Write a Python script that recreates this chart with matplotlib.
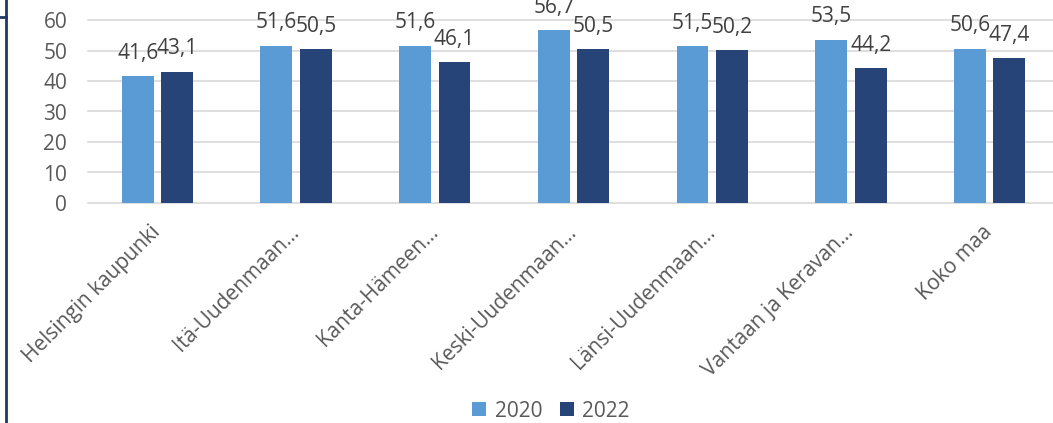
import numpy as np
import matplotlib
matplotlib.use("Agg")
import matplotlib.pyplot as plt
from matplotlib.patches import Patch
from matplotlib.lines import Line2D

# data
categories = ["Helsingin kaupunki", "Itä-Uudenmaan…", "Kanta-Hämeen…",
              "Keski-Uudenmaan…", "Länsi-Uudenmaan…", "Vantaan ja Keravan…",
              "Koko maa"]
vals_2020 = [41.6, 51.6, 51.6, 56.7, 51.5, 53.5, 50.6]
vals_2022 = [43.1, 50.5, 46.1, 50.5, 50.2, 44.2, 47.4]
series_names = ["2020", "2022"]
yticks = [0, 10, 20, 30, 40, 50, 60]

c_light = "#5B9BD5"
c_dark = "#264478"
txt = "#595959"
grid_c = "#D9D9D9"

plt.rcParams['font.family'] = ['Open Sans', 'DejaVu Sans']

W, H = 1053, 423
fig = plt.figure(figsize=(W / 100, H / 100), dpi=100)

# plot area in pixels: x 88..1059 (runs past the right edge), y 20..203
ax = fig.add_axes([88 / W, 1 - 203 / H, 971 / W, 183 / H])

x = np.arange(len(categories))
bw = 0.23
off = 0.142
b1 = ax.bar(x - off, vals_2020, bw, color=c_light, zorder=3)
b2 = ax.bar(x + off, vals_2022, bw, color=c_dark, zorder=3)

for bars, vals in [(b1, vals_2020), (b2, vals_2022)]:
    for r, v in zip(bars, vals):
        ax.annotate(f"{v:.1f}".replace(".", ","),
                    (r.get_x() + r.get_width() / 2, r.get_height()),
                    xytext=(0, 12.5), textcoords="offset points",
                    ha="center", va="baseline", fontsize=15, color="#404040",
                    annotation_clip=False, zorder=4)

ax.set_xlim(-0.5, len(categories) - 0.5)
ax.set_ylim(0, 60)
ax.set_yticks(yticks)
ax.set_yticklabels([str(t) for t in yticks])
for t in yticks:
    ax.axhline(t, color=grid_c, lw=1.2, zorder=1, clip_on=False)

ax.set_xticks(x)
ax.set_xticklabels(categories, rotation=45, ha="right", va="center",
                   rotation_mode="anchor", fontsize=15, color=txt)
ax.tick_params(axis="x", length=0, pad=19)
ax.tick_params(axis="y", length=0, pad=15, labelsize=15, labelcolor=txt)
for s in ax.spines.values():
    s.set_visible(False)

handles = [Patch(facecolor=c_light), Patch(facecolor=c_dark)]
fig.legend(handles, series_names, loc="center", bbox_to_anchor=(551 / W, 1 - 411 / H),
           ncol=2, frameon=False, fontsize=15, labelcolor=txt,
           handlelength=0.68, handleheight=0.68, handletextpad=0.4,
           columnspacing=0.85)

# dark frame edge on the left
fig.add_artist(Line2D([6 / W, 6 / W], [0, 1], color="#1F3864", lw=2,
                      transform=fig.transFigure))
fig.add_artist(Line2D([0, 6 / W], [1 - 17 / H, 1 - 17 / H], color="#1F3864",
                      lw=2, transform=fig.transFigure))

fig.savefig("out.png", dpi=100)
